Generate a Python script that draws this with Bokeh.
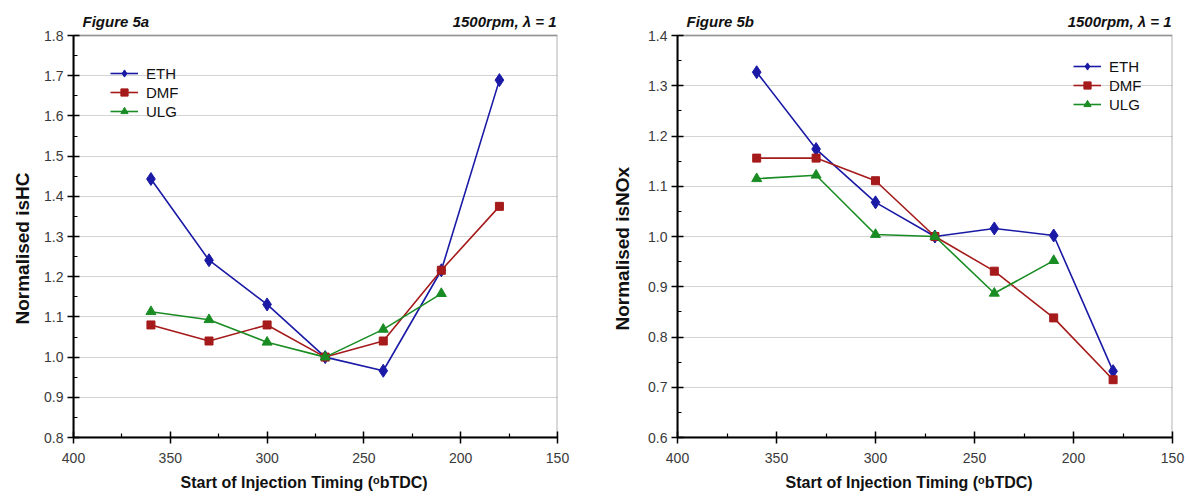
from bokeh.plotting import figure
from bokeh.layouts import row
from bokeh.models import (Range1d, FixedTicker, Legend, LegendItem, Label,
                          NumeralTickFormatter, BoxAnnotation, Title)
from bokeh.embed import file_html
from bokeh.resources import INLINE

# ---- data ----
timing = [360, 330, 300, 270, 240, 210, 180]
timing_ulg = [360, 330, 300, 270, 240, 210]

hc_eth = [1.443, 1.241, 1.131, 1.000, 0.966, 1.216, 1.689]
hc_dmf = [1.080, 1.040, 1.080, 1.000, 1.040, 1.216, 1.375]
hc_ulg = [1.113, 1.093, 1.037, 1.000, 1.069, 1.158]

nox_eth = [1.327, 1.174, 1.068, 1.000, 1.016, 1.002, 0.732]
nox_dmf = [1.156, 1.156, 1.111, 1.000, 0.931, 0.838, 0.715]
nox_ulg = [1.115, 1.122, 1.004, 1.000, 0.887, 0.952]

x_ticks = [400, 350, 300, 250, 200, 150]
x_minor = [375, 325, 275, 225, 175]

C_ETH = "#1a1aa6"
C_DMF = "#a51a1a"
C_ULG = "#1a8c24"
FONT = "Liberation Sans"

TOP_PAD = 35      # px above the data frame for the header texts
FRAME_H = 402     # px height of the data frame
CANVAS_H = 497
BOTTOM = CANVAS_H - TOP_PAD - FRAME_H


def make(title_left, ylabel, y0, y1, eth, dmf, ulg, leg_xy,
         bl, br, fw, ylab_standoff, ylab_offset, xlab_offset):
    y_ext = y1 + TOP_PAD / FRAME_H * (y1 - y0)
    p = figure(width=bl + fw + br, height=CANVAS_H, output_backend="svg",
               toolbar_location=None, x_range=Range1d(400, 150),
               y_range=Range1d(y0, y_ext), min_border_left=bl,
               min_border_right=br, min_border_top=0,
               min_border_bottom=BOTTOM)
    p.background_fill_color = "white"
    p.border_fill_color = "white"
    p.outline_line_color = None

    n = int(round((y1 - y0) / 0.1))
    yt = [round(y0 + 0.1 * i, 2) for i in range(n + 1)]
    ym = [round(y0 + 0.05 + 0.1 * i, 3) for i in range(n)]

    p.xaxis.ticker = FixedTicker(ticks=x_ticks, minor_ticks=x_minor)
    p.yaxis.ticker = FixedTicker(ticks=yt, minor_ticks=ym)
    p.yaxis.formatter = NumeralTickFormatter(format="0.0")
    p.yaxis.bounds = (y0, y1)
    p.xgrid.grid_line_color = None
    p.ygrid.grid_line_color = "#d4d4d4"
    p.ygrid.grid_line_width = 1

    for ax in (p.xaxis[0], p.yaxis[0]):
        ax.axis_line_color = "black"
        ax.axis_line_width = 2
        ax.major_tick_in = 6
        ax.major_tick_out = 6
        ax.major_tick_line_width = 1.5
        ax.minor_tick_in = 4
        ax.minor_tick_out = 0
        ax.minor_tick_line_width = 1.2
        ax.major_label_text_font = FONT
        ax.major_label_text_font_size = "14px"
        ax.major_label_text_color = "#3a3a3a"
    p.xaxis.major_label_standoff = 9
    p.yaxis.major_label_standoff = 4

    # axis titles as side titles so they can be placed like the original
    p.add_layout(Title(text=ylabel, align="left", offset=ylab_offset,
                       standoff=ylab_standoff, text_font=FONT,
                       text_font_size="19px", text_font_style="bold",
                       text_color="#111111"), "left")
    p.add_layout(Title(text="Start of Injection Timing (\u1d52bTDC)",
                       align="left", offset=xlab_offset, standoff=12,
                       text_font=FONT, text_font_size="16px",
                       text_font_style="bold", text_color="#111111"), "below")

    # frame box
    p.add_layout(BoxAnnotation(left=400, right=150, bottom=y0, top=y1,
                               fill_alpha=0, fill_color=None,
                               line_color="black", line_width=2))

    r1 = p.line(timing, eth, color=C_ETH, line_width=1.6)
    s1 = p.scatter(timing, eth, marker="diamond", size=13, color=C_ETH)
    r2 = p.line(timing, dmf, color=C_DMF, line_width=1.6)
    s2 = p.scatter(timing, dmf, marker="square", size=8, color=C_DMF)
    r3 = p.line(timing_ulg, ulg, color=C_ULG, line_width=1.6)
    s3 = p.scatter(timing_ulg, ulg, marker="triangle", size=10, color=C_ULG)

    leg = Legend(items=[LegendItem(label="ETH", renderers=[r1, s1]),
                        LegendItem(label="DMF", renderers=[r2, s2]),
                        LegendItem(label="ULG", renderers=[r3, s3])],
                 location=leg_xy, orientation="vertical",
                 border_line_color=None, background_fill_alpha=0,
                 label_text_font=FONT, label_text_font_size="15px",
                 label_text_color="#111111", glyph_width=28,
                 glyph_height=18, label_height=18, label_standoff=8,
                 spacing=1, padding=0, margin=0)
    p.add_layout(leg)

    p.add_layout(Label(x=400, y=y1, x_offset=9, y_offset=14, text=title_left,
                       text_font=FONT, text_font_size="15px",
                       text_font_style="bold italic",
                       text_baseline="alphabetic",
                       text_align="left", text_color="#111111"))
    p.add_layout(Label(x=150, y=y1, x_offset=-1, y_offset=14,
                       text="1500rpm, \u03bb = 1",
                       text_font=FONT, text_font_size="15px",
                       text_font_style="bold italic",
                       text_baseline="alphabetic",
                       text_align="right", text_color="#111111"))
    return p


pa = make("Figure 5a", "Normalised isHC", 0.8, 1.8, hc_eth, hc_dmf, hc_ulg,
          (37, 317), 73, 38, 484, 18, 113, 107)
pb = make("Figure 5b", "Normalised isNOx", 0.6, 1.4, nox_eth, nox_dmf, nox_ulg,
          (396, 324), 82, 18, 495, 26, 107, 108)

layout = row(pa, pb)
open("out.html", "w").write(file_html(layout, INLINE))
